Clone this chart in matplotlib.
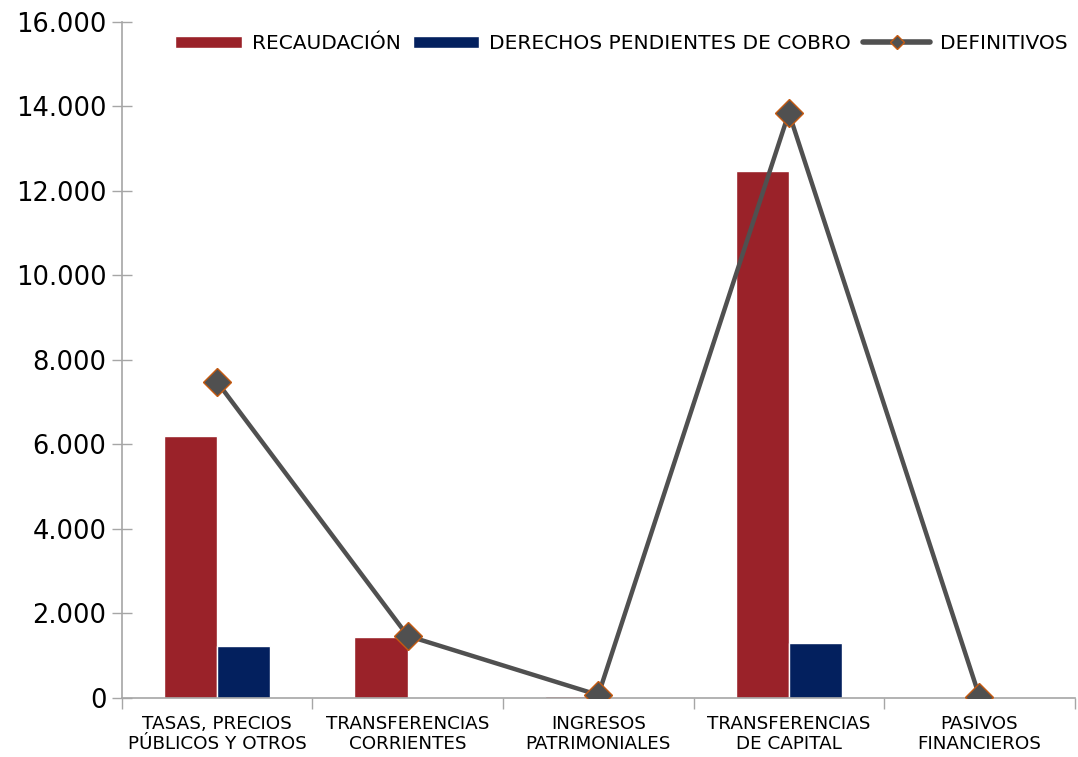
import matplotlib
matplotlib.use("Agg")
import matplotlib.pyplot as plt
import numpy as np
from matplotlib.ticker import FuncFormatter, FixedLocator
from matplotlib.lines import Line2D
from matplotlib.patches import Patch

categorias = ["TASAS, PRECIOS\nPÚBLICOS Y OTROS", "TRANSFERENCIAS\nCORRIENTES",
              "INGRESOS\nPATRIMONIALES", "TRANSFERENCIAS\nDE CAPITAL",
              "PASIVOS\nFINANCIEROS"]
recaudacion = [6200, 1440, 40, 12470, 10]
pendientes = [1230, 0, 0, 1300, 0]
definitivos = [7480, 1470, 70, 13850, 30]

plt.rcParams['font.family'] = ['DejaVu Sans']

ROJO = '#9a2229'
AZUL = '#03205e'
GRIS = '#505050'
NARANJA = '#c55a11'

fig = plt.figure(figsize=(10.78, 7.57), dpi=100)
ax = fig.add_axes([0.113, 0.078, 0.884, 0.893])

x = np.arange(len(categorias))
w = 0.28
ax.bar(x - w/2, recaudacion, w, color=ROJO, edgecolor='white', linewidth=1, zorder=2)
ax.bar(x + w/2, pendientes, w, color=AZUL, edgecolor='white', linewidth=1, zorder=2)
ax.plot(x, definitivos, color=GRIS, linewidth=3.2, marker='D', markersize=14,
        markerfacecolor=GRIS, markeredgecolor=NARANJA, markeredgewidth=1, zorder=3)

ax.set_xlim(-0.5, len(categorias) - 0.5)
ax.set_ylim(0, 16000)
ax.set_yticks(np.arange(0, 16001, 2000))
ax.yaxis.set_major_formatter(FuncFormatter(lambda v, p: f"{int(v):,}".replace(",", ".")))
ax.tick_params(axis='y', direction='inout', length=14, width=1, color='#a6a6a6',
               labelsize=18.5, pad=4)

ax.set_xticks(x)
ax.set_xticklabels(categorias, fontsize=13.2)
ax.tick_params(axis='x', which='major', length=0, pad=12)
ax.xaxis.set_minor_locator(FixedLocator(np.arange(-0.5, len(categorias), 1)))
ax.tick_params(axis='x', which='minor', direction='out', length=8, width=1, color='#a6a6a6')

for s in ['top', 'right']:
    ax.spines[s].set_visible(False)
for s in ['left', 'bottom']:
    ax.spines[s].set_color('#a6a6a6')
    ax.spines[s].set_linewidth(1.2)

handles = [
    Patch(facecolor=ROJO, edgecolor='white'),
    Patch(facecolor=AZUL, edgecolor='white'),
    Line2D([], [], color=GRIS, linewidth=4, solid_capstyle='round', marker='D',
           markersize=7, markerfacecolor=GRIS, markeredgecolor=NARANJA, markeredgewidth=1),
]
etiquetas = ['RECAUDACIÓN', 'DERECHOS PENDIENTES DE COBRO', 'DEFINITIVOS']
ax.legend(handles, etiquetas, loc='upper right', bbox_to_anchor=(1.005, 1.0), ncol=3,
          frameon=False, fontsize=14.5, handlelength=3.3, handleheight=0.6,
          handletextpad=0.5, columnspacing=0.6, borderaxespad=0.2)

fig.savefig("out.png", dpi=100)
